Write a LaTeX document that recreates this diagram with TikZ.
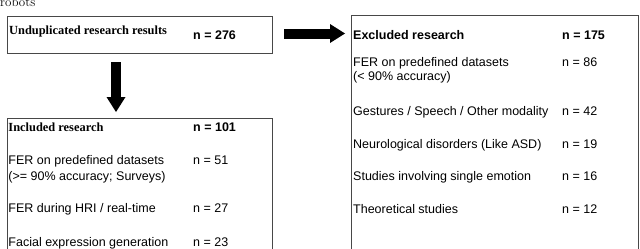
\documentclass[tikz,border=0pt]{standalone}
\usepackage{fontspec}
\setsansfont{Liberation Sans}
\newfontfamily\boxserif{Liberation Serif}
\usetikzlibrary{arrows.meta}

\begin{document}
\begin{tikzpicture}[x=1pt, y=-1pt, line join=miter]

	% Colors
	\definecolor{edgeG}{RGB}{72,72,72}

	\tikzset{
		box/.style={draw=edgeG, line width=1pt, anchor=north west, inner sep=0pt},
		headR/.style={anchor=base west, inner sep=0pt, font=\boxserif\bfseries\fontsize{12.4}{15}\selectfont},
		headS/.style={anchor=base west, inner sep=0pt, font=\sffamily\bfseries\fontsize{12.5}{15}\selectfont},
		item/.style={anchor=base west, inner sep=0pt, font=\sffamily\fontsize{12.5}{15}\selectfont},
		arrowK/.style={-{Triangle[length=15pt, width=19pt, line width=0pt]}, line width=10pt, draw=black},
	}

	\useasboundingbox (0,0) rectangle (640,249);
	\clip (0,0) rectangle (640,249);

	% --- caption fragment (cut at the top)
	\node[anchor=base west, inner sep=0pt, font=\fontsize{13}{15}\selectfont] (cap) at (0,6) {robots};

	% --- boxes
	\node[box, minimum width=265pt, minimum height=37pt] (undup) at (7,16) {};
	\node[box, minimum width=265pt, minimum height=150pt] (incl) at (7,118) {};
	\node[box, minimum width=287pt, minimum height=250pt] (excl) at (351,15) {};

	% --- top box
	\node[headR] (undupT) at (9,34.5) {Unduplicated research results};
	\node[headS] (undupN) at (193,39) {n = 276};

	% --- included
	\node[headR] (inclT) at (8.3,131.7) {Included research};
	\node[headS] (inclN) at (193,131.7) {n = 101};
	\node[item] (inclA) at (8.3,164.3) {FER on predefined datasets};
	\node[item] (inclA2) at (8.3,180.7) {(>= 90\% accuracy; Surveys)};
	\node[item] (inclAN) at (193,164.3) {n = 51};
	\node[item] (inclB) at (8.3,212.7) {FER during HRI / real-time};
	\node[item] (inclBN) at (193,212.7) {n = 27};
	\node[item] (inclC) at (8.3,246) {Facial expression generation};
	\node[item] (inclCN) at (193,246) {n = 23};

	% --- excluded
	\node[headS] (exclT) at (353,39) {Excluded research};
	\node[headS] (exclN) at (562,39) {n = 175};
	\node[item] (exclA) at (353,66.3) {FER on predefined datasets};
	\node[item] (exclA2) at (353,80.5) {(< 90\% accuracy)};
	\node[item] (exclAN) at (562,66.3) {n = 86};
	\node[item] (exclB) at (353,115) {Gestures / Speech / Other modality};
	\node[item] (exclBN) at (562,115) {n = 42};
	\node[item] (exclC) at (353,148) {Neurological disorders (Like ASD)};
	\node[item] (exclCN) at (562,148) {n = 19};
	\node[item] (exclD) at (353,180.5) {Studies involving single emotion};
	\node[item] (exclDN) at (562,180.5) {n = 16};
	\node[item] (exclE) at (353,213) {Theoretical studies};
	\node[item] (exclEN) at (562,213) {n = 12};

	% --- arrows
	\draw[arrowK, shorten <=8pt, shorten >=6pt] ([xshift=109pt]undup.south west) -- ([xshift=109pt]incl.north west);
	\draw[arrowK, shorten <=11pt, shorten >=6pt] ([yshift=1.5pt]undup.east) -- ([yshift=1.5pt]undup.east -| excl.west);

\end{tikzpicture}
\end{document}
